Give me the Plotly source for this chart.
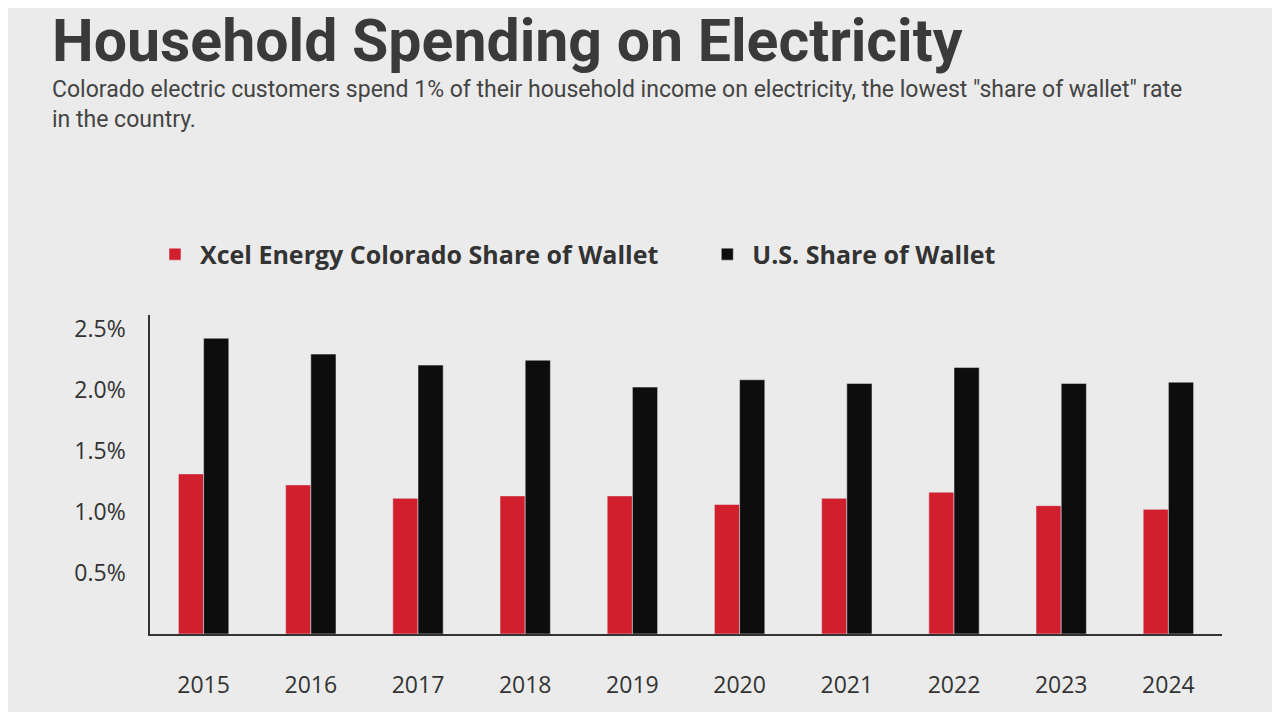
import plotly.graph_objects as go

years = ["2015", "2016", "2017", "2018", "2019", "2020", "2021", "2022", "2023", "2024"]
xcel_share = [1.31, 1.22, 1.11, 1.13, 1.13, 1.06, 1.11, 1.16, 1.05, 1.02]
us_share = [2.42, 2.29, 2.20, 2.24, 2.02, 2.08, 2.05, 2.18, 2.05, 2.06]
y_ticks = [0.5, 1.0, 1.5, 2.0, 2.5]
y_tick_labels = ["0.5%", "1.0%", "1.5%", "2.0%", "2.5%"]

fig = go.Figure()
fig.add_trace(go.Bar(x=years, y=xcel_share,
                     name="Xcel Energy Colorado Share of Wallet&nbsp;&nbsp;&nbsp;&nbsp;&nbsp;&nbsp;",
                     marker_color="#d11f2e"))
fig.add_trace(go.Bar(x=years, y=us_share, name="U.S. Share of Wallet",
                     marker_color="#0d0d0d"))

fig.update_layout(
    width=1264, height=704,
    paper_bgcolor="#ebebeb", plot_bgcolor="#ebebeb",
    margin=dict(l=142, r=50, t=307, b=52),
    barmode="group", bargap=0.53, bargroupgap=0,
    font=dict(family="Roboto", color="#333333"),
    showlegend=True,
    legend=dict(orientation="h", x=0.0, xanchor="left", y=1.19, yanchor="middle",
                font=dict(family="Open Sans", size=25, color="#333333", weight="bold"),
                itemwidth=40, bgcolor="rgba(0,0,0,0)"),
    xaxis=dict(showgrid=False, showline=True, linecolor="#333333", linewidth=1.5,
               ticks="outside", ticklen=30, tickcolor="rgba(0,0,0,0)",
               tickfont=dict(family="Open Sans", size=23, color="#333333")),
    yaxis=dict(range=[0, 2.61], showgrid=False, zeroline=False, showline=True,
               linecolor="#333333", linewidth=1.5, tickvals=y_ticks, ticktext=y_tick_labels,
               ticks="outside", ticklen=18, tickcolor="rgba(0,0,0,0)",
               tickfont=dict(family="Open Sans", size=23, color="#333333")),
    annotations=[
        dict(text="<b>Household Spending on Electricity</b>", xref="paper", yref="paper",
             x=-0.093, y=1.0, yanchor="top", xanchor="left", showarrow=False,
             yshift=307 + 4, font=dict(family="Roboto", size=59, color="#3a3a3a")),
        dict(text="Colorado electric customers spend 1% of their household income on electricity, the lowest \"share of wallet\" rate<br>in the country.",
             xref="paper", yref="paper", x=-0.093, y=1.0, xanchor="left", yanchor="top",
             yshift=307 - 66, showarrow=False, align="left",
             font=dict(family="Roboto", size=23, color="#444444", lineposition="none")),
    ],
)

fig.write_html("out.html")
